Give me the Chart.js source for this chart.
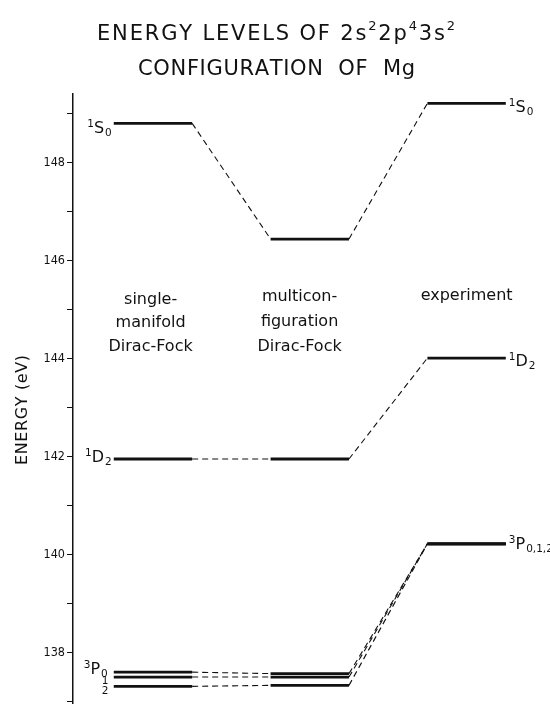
<!DOCTYPE html>
<html>
<head>
<meta charset="utf-8">
<script src="https://cdn.jsdelivr.net/npm/chart.js@4"></script>
<style>
  html, body { margin: 0; padding: 0; background: #fff; }
  #wrap { width: 550px; height: 713px; position: relative; }
</style>
</head>
<body>
<div id="wrap"><canvas id="c" width="550" height="713"></canvas></div>
<script>
// ---- data ----
const columns = ['single-manifold Dirac-Fock', 'multiconfiguration Dirac-Fock', 'experiment'];
const columnLabelLines = [['single-', 'manifold', 'Dirac-Fock'], ['multicon-', 'figuration', 'Dirac-Fock'], ['experiment']];
const terms = ['1S0', '1D2', '3P0', '3P1', '3P2'];
const smdf = [148.80, 141.95, 137.60, 137.50, 137.31];
const mcdf = [146.44, 141.95, 137.57, 137.50, 137.33];
const expt = [149.21, 144.01, 140.22, 140.22, 140.22];
const yTickLabels = [138, 140, 142, 144, 146, 148];
const yMin = 136.96, yMax = 149.4;

// column spans on the hidden x scale (category slots)
const colSpan = [[1, 2], [3, 4], [5, 6]];
const series = [smdf, mcdf, expt];

const datasets = [];
// level bars
series.forEach((vals, ci) => {
  vals.forEach((v, ti) => {
    datasets.push({
      label: columns[ci] + ' ' + terms[ti],
      data: [{x: colSpan[ci][0], y: v}, {x: colSpan[ci][1], y: v}],
      borderColor: '#111', borderWidth: 2.8, pointRadius: 0, showLine: true, fill: false
    });
  });
});
// dashed connectors
for (let ci = 0; ci < 2; ci++) {
  terms.forEach((t, ti) => {
    datasets.push({
      label: 'link ' + ci + ' ' + t,
      data: [{x: colSpan[ci][1], y: series[ci][ti]}, {x: colSpan[ci + 1][0], y: series[ci + 1][ti]}],
      borderColor: '#111', borderWidth: 1.1, borderDash: [6, 4], pointRadius: 0, showLine: true, fill: false
    });
  });
}

const FONT = '"DejaVu Sans", "Liberation Sans", sans-serif';

function drawFitted(ctx, runs, cx, baseline, size, target) {
  const chars = [];
  runs.forEach(r => {
    for (const ch of r.t) chars.push({ch, sup: !!r.sup});
  });
  let w = 0;
  chars.forEach(c => {
    ctx.font = (c.sup ? size * 0.62 : size) + 'px ' + FONT;
    c.w = ctx.measureText(c.ch).width; w += c.w;
  });
  const extra = (target - w) / (chars.length - 1);
  let x = cx - target / 2;
  ctx.textAlign = 'left';
  ctx.textBaseline = 'alphabetic';
  chars.forEach(c => {
    ctx.font = (c.sup ? size * 0.62 : size) + 'px ' + FONT;
    ctx.fillText(c.ch, x, c.sup ? baseline - size * 0.5 : baseline);
    x += c.w + extra;
  });
}

function drawTerm(ctx, x, baseline, sup, main, sub, alignRight) {
  const mainF = '16px ' + FONT, smallF = '10.5px ' + FONT;
  ctx.font = smallF; const ws = ctx.measureText(sup).width; const wb = ctx.measureText(sub).width;
  ctx.font = mainF; const wm = ctx.measureText(main).width;
  let x0 = alignRight ? x - (ws + wm + wb + 1) : x;
  ctx.textAlign = 'left'; ctx.textBaseline = 'alphabetic';
  ctx.font = smallF; ctx.fillText(sup, x0, baseline - 6);
  ctx.font = mainF; ctx.fillText(main, x0 + ws, baseline);
  ctx.font = smallF; ctx.fillText(sub, x0 + ws + wm + 1, baseline + 3);
}

const annot = {
  id: 'annot',
  afterDraw(chart) {
    const ctx = chart.ctx, xs = chart.scales.x, ys = chart.scales.y;
    ctx.save();
    ctx.fillStyle = '#111';
    // title
    drawFitted(ctx, [{t: 'ENERGY LEVELS OF 2s'}, {t: '2', sup: true}, {t: '2p'}, {t: '4', sup: true}, {t: '3s'}, {t: '2', sup: true}], 276, 40, 21, 358);
    drawFitted(ctx, [{t: 'CONFIGURATION  OF  Mg'}], 276.5, 75, 21, 277);
    // y axis title
    ctx.save();
    ctx.translate(27, 410);
    ctx.rotate(-Math.PI / 2);
    drawFitted(ctx, [{t: 'ENERGY (eV)'}], 0, 0, 16, 110);
    ctx.restore();
    // column labels
    ctx.font = '16px ' + FONT; ctx.textAlign = 'center'; ctx.textBaseline = 'alphabetic';
    const colCenters = [1.47, 3.37, 5.5];
    const baselines = [[304, 327, 351], [301, 326, 351], [300]];
    columnLabelLines.forEach((lines, ci) => {
      lines.forEach((s, li) => ctx.fillText(s, xs.getPixelForValue(colCenters[ci]), baselines[ci][li]));
    });
    // level labels: left side (single-manifold)
    const xl = xs.getPixelForValue(colSpan[0][0]) - 2;
    drawTerm(ctx, xl, ys.getPixelForValue(smdf[0]) + 10, '1', 'S', '0', true);
    drawTerm(ctx, xl, ys.getPixelForValue(smdf[1]) + 3, '1', 'D', '2', true);
    drawTerm(ctx, xl - 4, ys.getPixelForValue(smdf[2]) + 2, '3', 'P', '0', true);
    ctx.font = '10.5px ' + FONT; ctx.textAlign = 'left';
    ctx.fillText('1', xl - 10, ys.getPixelForValue(smdf[3]) + 7);
    ctx.fillText('2', xl - 10, ys.getPixelForValue(smdf[4]) + 8);
    // right side (experiment)
    const xr = xs.getPixelForValue(colSpan[2][1]) + 3;
    drawTerm(ctx, xr, ys.getPixelForValue(expt[0]) + 9, '1', 'S', '0', false);
    drawTerm(ctx, xr, ys.getPixelForValue(expt[1]) + 8, '1', 'D', '2', false);
    drawTerm(ctx, xr, ys.getPixelForValue(expt[2]) + 5, '3', 'P', '0,1,2', false);
    ctx.restore();
  }
};

new Chart(document.getElementById('c'), {
  type: 'scatter',
  data: {datasets},
  options: {
    responsive: false,
    animation: false,
    layout: {padding: {top: 94, bottom: 0, left: 0, right: 5}},
    plugins: {legend: {display: false}, title: {display: false}, tooltip: {enabled: false}},
    scales: {
      x: {type: 'linear', display: false, min: 0.48, max: 6.5},
      y: {
        type: 'linear', min: yMin, max: yMax,
        afterFit(scale) { scale.width = 73; },
        border: {display: true, color: '#111', width: 1.5},
        grid: {drawOnChartArea: false, drawTicks: true, tickLength: 6, color: '#111', lineWidth: 1},
        ticks: {
          stepSize: 1, includeBounds: false, color: '#111', padding: 2,
          font: {size: 12.5, family: '"DejaVu Sans Condensed", "DejaVu Sans", sans-serif'},
          callback: v => (yTickLabels.includes(v) ? String(v) : '')
        }
      }
    }
  },
  plugins: [annot]
});
</script>
</body>
</html>
